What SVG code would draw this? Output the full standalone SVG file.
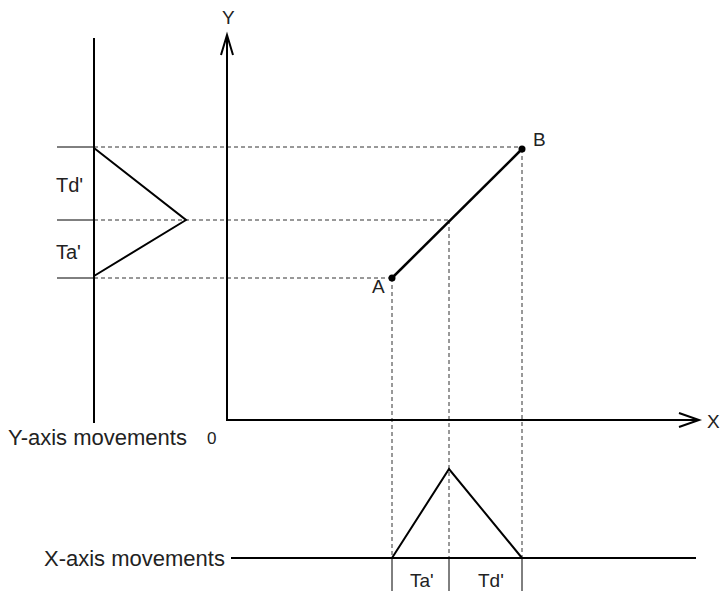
<svg xmlns="http://www.w3.org/2000/svg" width="724" height="591" viewBox="0 0 724 591">
<style>
text{font-family:"Liberation Sans",Arial,sans-serif;fill:#222}
.thick{stroke:#000;stroke-width:2;fill:none}
.thin{stroke:#000;stroke-width:1;fill:none}
.dash{stroke:#333;stroke-width:1;stroke-dasharray:4,3;fill:none}
.lbl{font-size:20px}
.pt{font-size:19px}
.big{font-size:22px}
</style>
<rect width="724" height="591" fill="#fff"/>
<g id="connectors">
<line class="dash" x1="94" y1="147" x2="522" y2="147"/>
<line class="dash" x1="94" y1="220" x2="449" y2="220"/>
<line class="dash" x1="94" y1="278" x2="392" y2="278"/>
<line class="dash" x1="392" y1="278" x2="392" y2="558"/>
<line class="dash" x1="449" y1="220" x2="449" y2="558"/>
<line class="dash" x1="522" y1="149" x2="522" y2="558"/>
</g>
<g id="y-movement">
<line class="thick" x1="94" y1="38" x2="94" y2="423"/>
<line class="thin" x1="57" y1="147" x2="94" y2="147"/>
<line class="thin" x1="57" y1="220" x2="94" y2="220"/>
<line class="thin" x1="57" y1="278" x2="94" y2="278"/>
<polyline class="thick" points="94,148 186,220 94,276"/>
<text class="lbl" x="56" y="192">Td'</text>
<text class="lbl" x="56" y="259">Ta'</text>
<text class="big" x="8" y="445">Y-axis movements</text>
</g>
<g id="axes">
<polyline class="thick" points="227,38 227,420 697,420"/>
<polyline class="thick" points="221,55 227,35 233,55"/>
<polyline class="thick" points="679,413 699,420 679,427"/>
<text class="pt" x="222" y="24">Y</text>
<text class="pt" x="707" y="428">X</text>
<text x="207" y="444" style="font-size:17px">0</text>
</g>
<g id="path-AB">
<line stroke="#000" stroke-width="2.5" x1="392" y1="278" x2="522" y2="149"/>
<circle cx="392" cy="278" r="3.5" fill="#000"/>
<circle cx="522" cy="149" r="3.5" fill="#000"/>
<text class="pt" x="372" y="293">A</text>
<text class="pt" x="533" y="146">B</text>
</g>
<g id="x-movement">
<line class="thick" x1="231" y1="558" x2="696" y2="558"/>
<polyline class="thick" points="392,558 449,469 522,558"/>
<line class="thin" x1="392" y1="558" x2="392" y2="591"/>
<line class="thin" x1="449" y1="558" x2="449" y2="591"/>
<line class="thin" x1="522" y1="558" x2="522" y2="591"/>
<text x="410" y="587" style="font-size:19px">Ta'</text>
<text x="478" y="587" style="font-size:19px">Td'</text>
<text class="big" x="44" y="566">X-axis movements</text>
</g>
</svg>
